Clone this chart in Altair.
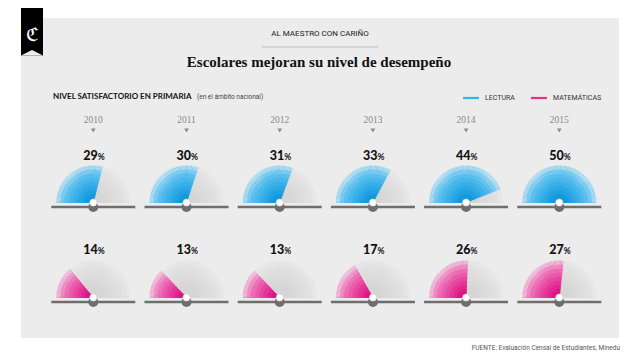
import math
import altair as alt
import pandas as pd

# ---------------- data ----------------
years = ["2010", "2011", "2012", "2013", "2014", "2015"]
lectura = [29, 30, 31, 33, 44, 50]
matematicas = [14, 13, 13, 17, 26, 27]

# ---------------- layout (page pixel coords) ----------------
OFF = 8
W, H = 624, 350
PANEL = "#ececec"
col_x = [93.3 + i * 93.2 for i in range(len(years))]


def hex2rgb(h):
    return [int(h[i:i + 2], 16) for i in (1, 3, 5)]


def mix(a, b, t):
    ca, cb = hex2rgb(a), hex2rgb(b)
    return "#" + "".join(f"{round(ca[i] + (cb[i] - ca[i]) * t):02x}" for i in range(3))


rows = [
    ("Lectura", lectura, 202.5, 159.5, ("#0091da", "#6ccaf3")),
    ("Matemáticas", matematicas, 297.5, 253.5, ("#da007a", "#f285c2")),
]
GRAY = ("#d2d2d2", "#e2e2e2")
R = 37
N = 90
NL = 9
LEVELS = [1 - j / NL for j in range(NL)]  # outer first

spokes = []
for subj, vals, cy, _, (cin, cout) in rows:
    for i, v in enumerate(vals):
        cx = col_x[i]
        lim = v * 3.6
        for k in range(N + 1):
            a = k * 180.0 / N
            on = a <= lim + 1e-6
            th = math.radians(180 - a)
            for s, f in enumerate(LEVELS):
                t = f - 0.5 / NL
                r1 = f * R
                col = mix(cin, cout, t) if on else mix(GRAY[0], GRAY[1], t)
                spokes.append(dict(
                    x=cx, y=cy,
                    x2=cx + r1 * math.cos(th), y2=cy - r1 * math.sin(th),
                    c=col, on=int(on), lvl=s, subj=subj, year=years[i]))
spokes_df = pd.DataFrame(spokes).sort_values(["lvl", "on"], kind="stable")

labels = []
for subj, vals, cy, base, cols in rows:
    for i, v in enumerate(vals):
        labels.append(dict(x=col_x[i], xp=col_x[i] + 4.5, y=base, cy=cy, num=str(v), pct="%",
                           bx0=col_x[i] - 42, bx1=col_x[i] + 42, by=cy + 4.5))
labels_df = pd.DataFrame(labels)
year_df = pd.DataFrame(dict(x=col_x, year=years, y=[120] * 6, ty=[130.5] * 6))

XS = alt.Scale(domain=[OFF, OFF + W], nice=False, zero=False)
YS = alt.Scale(domain=[OFF, OFF + H], nice=False, zero=False, reverse=True)


def X(f):
    return alt.X(f"{f}:Q", scale=XS, axis=None)


def Y(f):
    return alt.Y(f"{f}:Q", scale=YS, axis=None)


one = pd.DataFrame({"a": [0]})


def vx(px):
    return alt.value(px - OFF)


def vy(py):
    return alt.value(py - OFF)


def text(t, px, py, size, color="#222", font="Roboto", weight="normal", align="center", baseline="middle"):
    return alt.Chart(one).mark_text(
        text=t, fontSize=size, color=color, font=font, fontWeight=weight, align=align, baseline=baseline
    ).encode(x=vx(px), y=vy(py))


panel = alt.Chart(one).mark_rect(color=PANEL).encode(x=vx(21), x2=vx(619), y=vy(18), y2=vy(338))
ribbon = alt.Chart(one).mark_rect(color="#000000").encode(x=vx(21), x2=vx(43), y=vy(8), y2=vy(55.5))
notch = alt.Chart(one).mark_point(
    shape="M-1,0.5L0,0L1,0.5Z", filled=True, color=PANEL, opacity=1, size=484, strokeWidth=0
).encode(x=vx(32), y=vy(50))
logo = text("ℭ", 32, 35, 19, color="#ffffff", font="DejaVu Serif")

kicker = text("AL MAESTRO CON CARIÑO", 320, 34, 8, color="#222")
sep = alt.Chart(one).mark_rule(color="#b9b9b9", strokeWidth=1).encode(x=vx(262), x2=vx(378), y=vy(47))
title = text("Escolares mejoran su nivel de desempeño", 319, 62, 15, color="#111",
             font="Liberation Serif", weight="bold")
subtitle = text("NIVEL SATISFACTORIO EN PRIMARIA", 53, 97, 8, color="#111", font="Lato",
                weight="bold", align="left")
subnote = text("(en el ámbito nacional)", 197, 96.5, 6.5, color="#444", align="left")

leg1 = alt.Chart(one).mark_rule(color="#35b5ea", strokeWidth=2.2).encode(x=vx(463), x2=vx(479), y=vy(98))
leg1t = text("LECTURA", 485, 98, 7, color="#333", align="left")
leg2 = alt.Chart(one).mark_rule(color="#e4338f", strokeWidth=2.2).encode(x=vx(531), x2=vx(547), y=vy(98))
leg2t = text("MATEMÁTICAS", 553, 98, 7, color="#333", align="left")

footer = text("FUENTE: Evaluación Censal de Estudiantes, Minedu", 620, 347.5, 6.5, color="#555", align="right")

years_txt = alt.Chart(year_df).mark_text(font="Liberation Serif", fontSize=9.5, color="#8a8a8a").encode(
    x=X("x"), y=Y("y"), text="year:N")
tri = alt.Chart(year_df).mark_point(shape="triangle-down", filled=True, color="#8a8a8a", size=22, opacity=1).encode(
    x=X("x"), y=Y("ty"))

spk = alt.Chart(spokes_df).mark_rule(strokeWidth=0.7, strokeCap="butt").encode(
    x=X("x"), y=Y("y"), x2="x2:Q", y2="y2:Q", color=alt.Color("c:N", scale=None))

bar = alt.Chart(labels_df).mark_rule(color="#6e6e6e", strokeWidth=2.5).encode(
    x=X("bx0"), x2="bx1:Q", y=Y("by"))
knob = alt.Chart(labels_df).mark_point(shape="circle", filled=True, color="#6e6e6e", size=100, opacity=1).encode(
    x=X("x"), y=Y("by"))
dot = alt.Chart(labels_df).mark_point(shape="circle", filled=True, color="#ffffff", size=52, opacity=1,
                                      stroke="#d0d0d0", strokeWidth=0.6).encode(x=X("x"), y=Y("cy"))

num = alt.Chart(labels_df).mark_text(font="Lato", fontWeight=900, fontSize=12.5, color="#111",
                                     align="right", baseline="alphabetic").encode(
    x=X("xp"), y=Y("y"), text="num:N")
pct = alt.Chart(labels_df).mark_text(font="Lato", fontWeight="bold", fontSize=8.5, color="#111",
                                     align="left", baseline="alphabetic").encode(
    x=X("xp"), y=Y("y"), text="pct:N")

chart = alt.layer(
    panel, ribbon, notch, logo, kicker, sep, title, subtitle, subnote,
    leg1, leg1t, leg2, leg2t, footer, years_txt, tri, spk, bar, knob, dot, num, pct
).properties(
    width=W, height=H, padding=0, autosize=alt.AutoSizeParams(type="none"), background="#ffffff"
).configure_view(stroke=None)

chart.save("out.html", embed_options={"renderer": "svg", "actions": False})
